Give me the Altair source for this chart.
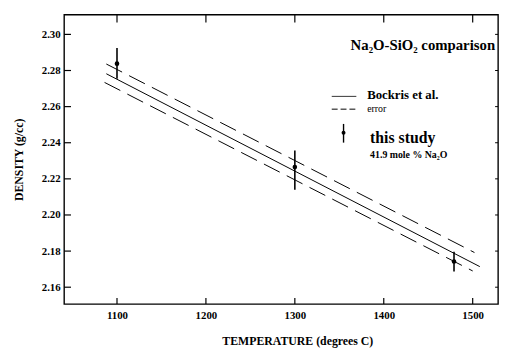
import altair as alt
import pandas as pd

# ---- data ----
fit_temp = [1088, 1508]
fit_dens = [2.2782, 2.1714]
upper_temp = [1088, 1502]
upper_dens = [2.2836, 2.1792]
lower_temp = [1086, 1500]
lower_dens = [2.2734, 2.1690]
study_temp = [1100, 1300, 1479]
study_dens = [2.2838, 2.2265, 2.1742]
study_lo = [2.2755, 2.2139, 2.1687]
study_hi = [2.2924, 2.2357, 2.1796]
x_ticks = [1100, 1200, 1300, 1400, 1500]
y_ticks = [2.16, 2.18, 2.20, 2.22, 2.24, 2.26, 2.28, 2.30]
title_text = "Na₂O-SiO₂ comparison"
leg_fit = "Bockris et al."
leg_err = "error"
leg_study = "this study"
leg_comp = "41.9 mole % Na₂O"

W, H = 441, 294
FONT = "Liberation Serif"

xs = alt.Scale(domain=[1040.5, 1528.5], nice=False, zero=False)
ys = alt.Scale(domain=[2.1507, 2.3109], nice=False, zero=False)

x_axis = alt.Axis(values=x_ticks, format="d", title="TEMPERATURE (degrees C)",
                  grid=False, ticks=False, domain=False, labelPadding=6,
                  labelFont=FONT, labelFontWeight="bold", labelFontSize=11,
                  labelColor="black", titleFont=FONT, titleFontWeight="bold",
                  titleFontSize=12, titleColor="black", titlePadding=15,
                  titleX=237)
y_axis = alt.Axis(values=y_ticks, format=".2f", title="DENSITY (g/cc)",
                  grid=False, ticks=False, domain=False, labelPadding=4,
                  labelFont=FONT, labelFontWeight="bold", labelFontSize=11,
                  labelColor="black", titleFont=FONT, titleFontWeight="bold",
                  titleFontSize=12, titleColor="black", titlePadding=16)


def X(field):
    return alt.X(field, scale=xs, axis=x_axis)


def Y(field):
    return alt.Y(field, scale=ys, axis=y_axis)


fit_df = pd.DataFrame({"T": fit_temp, "D": fit_dens})
err_df = pd.DataFrame({
    "T": upper_temp + lower_temp,
    "D": upper_dens + lower_dens,
    "s": ["upper"] * len(upper_temp) + ["lower"] * len(lower_temp),
})
study_df = pd.DataFrame({"T": study_temp, "D": study_dens, "lo": study_lo, "hi": study_hi})
xt_df = pd.DataFrame({"T": x_ticks})
yt_df = pd.DataFrame({"D": y_ticks})

fit = alt.Chart(fit_df).mark_line(color="black", strokeWidth=1).encode(
    x=X("T:Q"), y=Y("D:Q"))

err = alt.Chart(err_df).mark_line(color="black", strokeWidth=1, strokeDash=[18, 8]).encode(
    x=X("T:Q"), y=Y("D:Q"), detail="s:N")

bars = alt.Chart(study_df).mark_rule(color="black", strokeWidth=1.6).encode(
    x=X("T:Q"), y=Y("lo:Q"), y2="hi:Q")
pts = alt.Chart(study_df).mark_point(filled=True, color="black", size=22, opacity=1).encode(
    x=X("T:Q"), y=Y("D:Q"))

# inward tick marks on all four sides
xt_bot = alt.Chart(xt_df).mark_rule(color="black", strokeWidth=1.2).encode(
    x=X("T:Q"), y=alt.value(H), y2=alt.value(H - 6))
xt_top = alt.Chart(xt_df).mark_rule(color="black", strokeWidth=1.2).encode(
    x=X("T:Q"), y=alt.value(0), y2=alt.value(8))
yt_left = alt.Chart(yt_df).mark_rule(color="black", strokeWidth=1.2).encode(
    y=Y("D:Q"), x=alt.value(0), x2=alt.value(7))
yt_right = alt.Chart(yt_df).mark_rule(color="black", strokeWidth=1).encode(
    y=Y("D:Q"), x=alt.value(W), x2=alt.value(W - 3))

one = pd.DataFrame({"k": [0]})


def label(text, x, y, size, weight="bold", align="left"):
    return alt.Chart(pd.DataFrame({"t": [text]})).mark_text(
        font=FONT, fontSize=size, fontWeight=weight, align=align,
        baseline="middle", color="black").encode(
        x=alt.value(x), y=alt.value(y), text="t:N")


title = label(title_text, 438, 31, 15, align="right")
l_fit_line = alt.Chart(one).mark_rule(color="black", strokeWidth=0.8).encode(
    x=alt.value(272), x2=alt.value(297), y=alt.value(83))
l_fit = label(leg_fit, 308, 82, 13)
l_err_line = alt.Chart(one).mark_rule(color="black", strokeWidth=1, strokeDash=[6, 3]).encode(
    x=alt.value(272), x2=alt.value(297), y=alt.value(96))
l_err = label(leg_err, 308, 96, 10, weight="normal")
l_bar = alt.Chart(one).mark_rule(color="black", strokeWidth=1.4).encode(
    x=alt.value(284), y=alt.value(111), y2=alt.value(130))
l_pt = alt.Chart(one).mark_point(filled=True, color="black", size=16, opacity=1).encode(
    x=alt.value(284), y=alt.value(120))
l_study = label(leg_study, 311, 125, 16)
l_comp = label(leg_comp, 311, 143, 10)

chart = alt.layer(
    fit, err, bars, pts, xt_bot, xt_top, yt_left, yt_right,
    title, l_fit_line, l_fit, l_err_line, l_err, l_bar, l_pt, l_study, l_comp,
).properties(
    width=W, height=H,
    background="white",
    autosize=alt.AutoSizeParams(type="none"),
    padding={"left": 57, "top": 4, "right": 2, "bottom": 48},
).configure_view(stroke="black", strokeWidth=1.4)

chart.save("out.html", embed_options={"renderer": "svg", "actions": False})
